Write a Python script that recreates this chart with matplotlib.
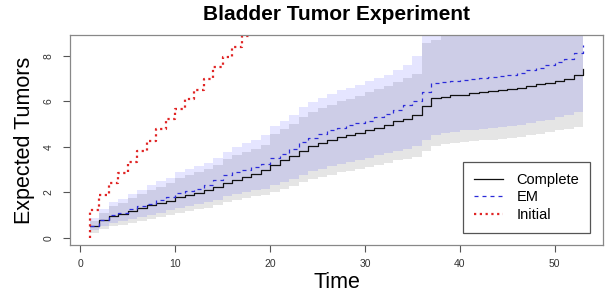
import matplotlib
matplotlib.use("Agg")
import matplotlib.pyplot as plt
import numpy as np

plt.rcParams['font.family'] = ['Liberation Sans', 'DejaVu Sans']

# ---- data ----
time = list(range(1, 54))

complete = [0.50, 0.78, 0.95, 1.05, 1.18, 1.32, 1.42, 1.52, 1.63, 1.78,
            1.88, 1.98, 2.08, 2.22, 2.42, 2.55, 2.67, 2.80, 3.00, 3.18,
            3.40, 3.58, 3.82, 4.02, 4.17, 4.30, 4.44, 4.52, 4.60, 4.75,
            4.85, 4.97, 5.12, 5.22, 5.38, 5.80, 6.13, 6.20, 6.27, 6.30,
            6.35, 6.40, 6.45, 6.50, 6.55, 6.60, 6.68, 6.75, 6.82, 6.90,
            6.97, 7.15, 7.42]

em = [0.50, 0.80, 1.00, 1.10, 1.25, 1.38, 1.50, 1.65, 1.78, 1.95,
      2.05, 2.15, 2.30, 2.55, 2.75, 2.90, 3.00, 3.12, 3.25, 3.50,
      3.70, 3.90, 4.20, 4.40, 4.55, 4.72, 4.85, 4.95, 5.05, 5.15,
      5.30, 5.45, 5.60, 5.85, 6.00, 6.42, 6.80, 6.85, 6.90, 6.95,
      7.00, 7.05, 7.08, 7.10, 7.15, 7.25, 7.38, 7.48, 7.58, 7.72,
      7.85, 8.15, 8.48]

initial_time = [1, 1, 2, 3, 4, 5, 6, 7, 8, 9, 10, 11, 12, 13, 14, 15, 16, 17, 18, 19]
initial = [0.0, 1.23, 1.89, 2.42, 2.86, 3.33, 3.80, 4.25, 4.78, 5.22, 5.67,
           6.11, 6.50, 6.99, 7.52, 7.97, 8.38, 8.88, 9.30, 9.75]

em_upper = [0.85, 1.25, 1.58, 1.72, 1.92, 2.12, 2.30, 2.48, 2.65, 2.88,
            3.02, 3.15, 3.30, 3.50, 3.78, 3.98, 4.15, 4.30, 4.50, 4.90,
            5.12, 5.38, 5.75, 5.98, 6.15, 6.32, 6.48, 6.60, 6.72, 6.88,
            7.02, 7.18, 7.38, 7.62, 7.98, 10.50, 10.90, 11.00, 11.10, 11.20,
            11.25, 11.30, 11.35, 11.40, 11.45, 11.55, 11.65, 11.75, 11.85, 12.00,
            12.10, 12.40, 12.80]

em_lower = [0.32, 0.52, 0.65, 0.72, 0.82, 0.92, 1.00, 1.10, 1.20, 1.32,
            1.40, 1.48, 1.56, 1.68, 1.82, 1.92, 2.00, 2.08, 2.16, 2.30,
            2.45, 2.58, 2.78, 2.92, 3.04, 3.15, 3.26, 3.34, 3.42, 3.52,
            3.62, 3.72, 3.82, 3.92, 4.02, 4.32, 4.52, 4.60, 4.66, 4.72,
            4.76, 4.80, 4.83, 4.86, 4.90, 4.96, 5.04, 5.12, 5.20, 5.30,
            5.38, 5.55, 5.70]

complete_upper = [0.75, 1.10, 1.40, 1.55, 1.75, 1.92, 2.08, 2.25, 2.40, 2.62,
                  2.75, 2.88, 3.02, 3.20, 3.45, 3.62, 3.78, 3.92, 4.10, 4.55,
                  4.78, 5.00, 5.30, 5.52, 5.70, 5.85, 6.00, 6.12, 6.25, 6.40,
                  6.55, 6.68, 6.85, 7.05, 7.20, 8.55, 8.72, 9.30, 9.40, 9.50,
                  9.55, 9.60, 9.65, 9.70, 9.75, 9.85, 9.95, 10.05, 10.15, 10.30,
                  10.40, 10.60, 10.90]

complete_lower = [0.22, 0.40, 0.52, 0.58, 0.66, 0.74, 0.82, 0.90, 0.98, 1.10,
                  1.18, 1.25, 1.32, 1.42, 1.56, 1.66, 1.74, 1.82, 1.90, 2.02,
                  2.15, 2.28, 2.45, 2.58, 2.68, 2.78, 2.88, 2.95, 3.02, 3.12,
                  3.22, 3.30, 3.40, 3.48, 3.56, 3.82, 4.05, 4.12, 4.17, 4.21,
                  4.25, 4.28, 4.31, 4.34, 4.38, 4.43, 4.50, 4.57, 4.64, 4.72,
                  4.78, 4.88, 4.98]

x_ticks = [0, 10, 20, 30, 40, 50]
y_ticks = [0, 2, 4, 6, 8]

# ---- figure ----
fig = plt.figure(figsize=(6.11, 3.04), dpi=100)
W, H = 611, 304
left, right, top, bottom = 70, 603, 35, 245
ax = fig.add_axes([left / W, 1 - bottom / H, (right - left) / W, (bottom - top) / H])

ax.fill_between(time, complete_lower, complete_upper, step='post',
                facecolor=(0.5, 0.5, 0.5), alpha=0.2, linewidth=0)
ax.fill_between(time, em_lower, em_upper, step='post',
                facecolor=(0.0, 0.0, 1.0), alpha=0.1, linewidth=0)

ax.step(time, complete, where='post', color='#111111', lw=0.9, label='Complete')
ax.step(time, em, where='post', color='#2a2ad8', lw=0.9,
        linestyle=(0, (3.2, 3.2)), label='EM')
ax.step(initial_time, initial, where='post', color='#e02525', lw=1.6,
        linestyle=(0, (1.0, 1.6)), label='Initial')

ax.set_xlim(-1.08, 55.08)
ax.set_ylim(-0.32, 8.92)
ax.set_xticks(x_ticks)
ax.set_yticks(y_ticks)
ax.tick_params(axis='both', direction='out', length=5, width=0.8,
               color='#555555', labelcolor='#333333', labelsize=7.5)
ax.tick_params(axis='x', pad=5)
ax.tick_params(axis='y', pad=7)
for lab in ax.get_yticklabels():
    lab.set_rotation(90)
    lab.set_va('center')
for sp in ax.spines.values():
    sp.set_color('#888888')
    sp.set_linewidth(0.9)

ax.set_title('Bladder Tumor Experiment', fontsize=15, fontweight='bold', pad=11)
ax.set_xlabel('Time', fontsize=15.5, labelpad=2)
ax.set_ylabel('Expected Tumors', fontsize=15.5, labelpad=6)

leg = ax.legend(loc='lower right', bbox_to_anchor=(0.976, 0.057), borderaxespad=0,
                fontsize=10.5, handlelength=2.0, handletextpad=0.9,
                borderpad=0.75, labelspacing=0.25, fancybox=False,
                framealpha=1.0, edgecolor='#555555')
leg.get_frame().set_linewidth(0.9)

fig.savefig('out.png', dpi=100)
